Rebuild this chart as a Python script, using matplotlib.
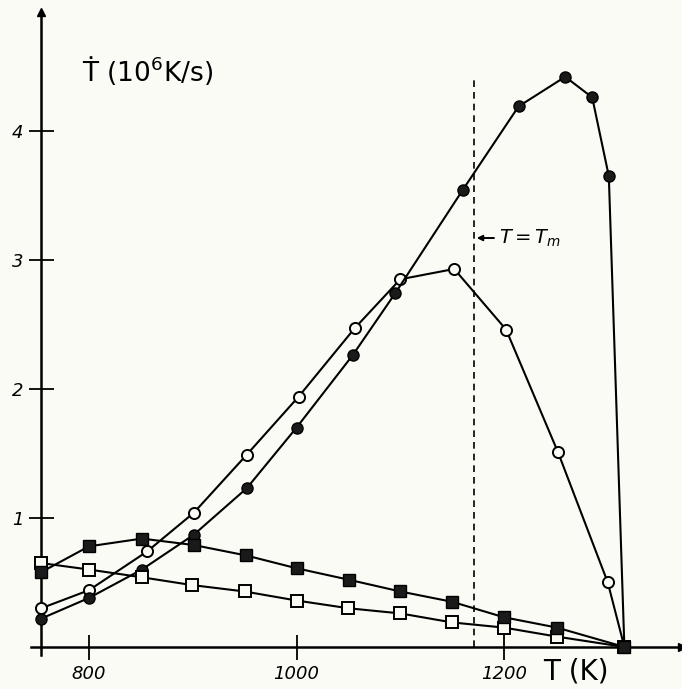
import matplotlib.pyplot as plt

# temperatures (K) and cooling rates (1e6 K/s)
t_filled_circ = [754, 800, 851, 901, 952, 1000, 1054, 1095, 1160, 1214, 1259, 1285, 1301, 1316]
rate_filled_circ = [0.22, 0.38, 0.60, 0.87, 1.23, 1.70, 2.26, 2.74, 3.54, 4.19, 4.42, 4.26, 3.65, 0.0]

t_open_circ = [754, 800, 856, 901, 952, 1002, 1056, 1100, 1152, 1202, 1252, 1300, 1316]
rate_open_circ = [0.30, 0.44, 0.74, 1.04, 1.49, 1.94, 2.47, 2.85, 2.93, 2.46, 1.51, 0.50, 0.0]

t_filled_sq = [754, 800, 851, 901, 951, 1000, 1051, 1100, 1150, 1200, 1251, 1316]
rate_filled_sq = [0.58, 0.78, 0.84, 0.79, 0.71, 0.61, 0.52, 0.43, 0.35, 0.23, 0.15, 0.0]

t_open_sq = [754, 800, 851, 899, 950, 1000, 1050, 1100, 1150, 1200, 1251, 1316]
rate_open_sq = [0.65, 0.60, 0.54, 0.48, 0.43, 0.36, 0.30, 0.26, 0.19, 0.15, 0.08, 0.0]

t_melt = 1171
x_ticks = [800, 1000, 1200]
x_tick_labels = ["800", "1000", "1200"]
y_ticks = [1, 2, 3, 4]

bg = '#fbfbf6'
fig = plt.figure(figsize=(6.82, 6.89), dpi=100, facecolor=bg)
ax = fig.add_axes([0.0453, 0.0498, 0.9554, 0.9324], facecolor=bg)

lw = 1.5
ms = 8
ax.plot(t_open_circ, rate_open_circ, '-o', color='black', lw=lw, ms=ms,
        mfc=bg, mec='black', mew=1.4, zorder=3)
ax.plot(t_filled_circ, rate_filled_circ, '-o', color='black', lw=lw, ms=ms,
        mfc='#1a1a1a', mec='black', zorder=3)
ax.plot(t_open_sq, rate_open_sq, '-s', color='black', lw=lw, ms=ms,
        mfc=bg, mec='black', mew=1.4, zorder=3)
ax.plot(t_filled_sq, rate_filled_sq, '-s', color='black', lw=lw, ms=ms,
        mfc='#1a1a1a', mec='black', zorder=4)

# melting temperature marker
ax.plot([t_melt, t_melt], [0, 4.42], '--', color='black', lw=1.2, dashes=(4, 3))
ax.annotate("", xy=(t_melt, 3.17), xytext=(t_melt + 22, 3.17),
            arrowprops=dict(arrowstyle='-|>', color='black', lw=1.4, mutation_scale=8))
ax.text(t_melt + 24, 3.17, "$T = T_m$", fontsize=14, va='center', ha='left')

ax.set_xlim(744, 1372)
ax.set_ylim(-0.06, 4.92)

ax.spines['top'].set_visible(False)
ax.spines['right'].set_visible(False)
ax.spines['left'].set_position(('data', 754))
ax.spines['bottom'].set_position(('data', 0))
ax.spines['left'].set_linewidth(1.8)
ax.spines['bottom'].set_linewidth(1.8)

# axis arrows
ax.plot(1, 0, '>k', ms=6, transform=ax.get_yaxis_transform(), clip_on=False)
ax.plot(754, 1, '^k', ms=6, transform=ax.get_xaxis_transform(), clip_on=False)

ax.set_xticks(x_ticks)
ax.set_xticklabels(x_tick_labels, fontsize=13, style='italic')
ax.set_yticks(y_ticks)
ax.set_yticklabels([str(v) for v in y_ticks], fontsize=13, style='italic')
ax.tick_params(direction='inout', length=18, width=1.3, pad=4)

ax.text(793, 4.47, "Ṫ (10$^6$K/s)", fontsize=19, ha='left', va='center')
ax.text(1238, -0.19, "T (K)", fontsize=20, ha='left', va='center')

plt.savefig('out.png', dpi=100, facecolor=bg)
